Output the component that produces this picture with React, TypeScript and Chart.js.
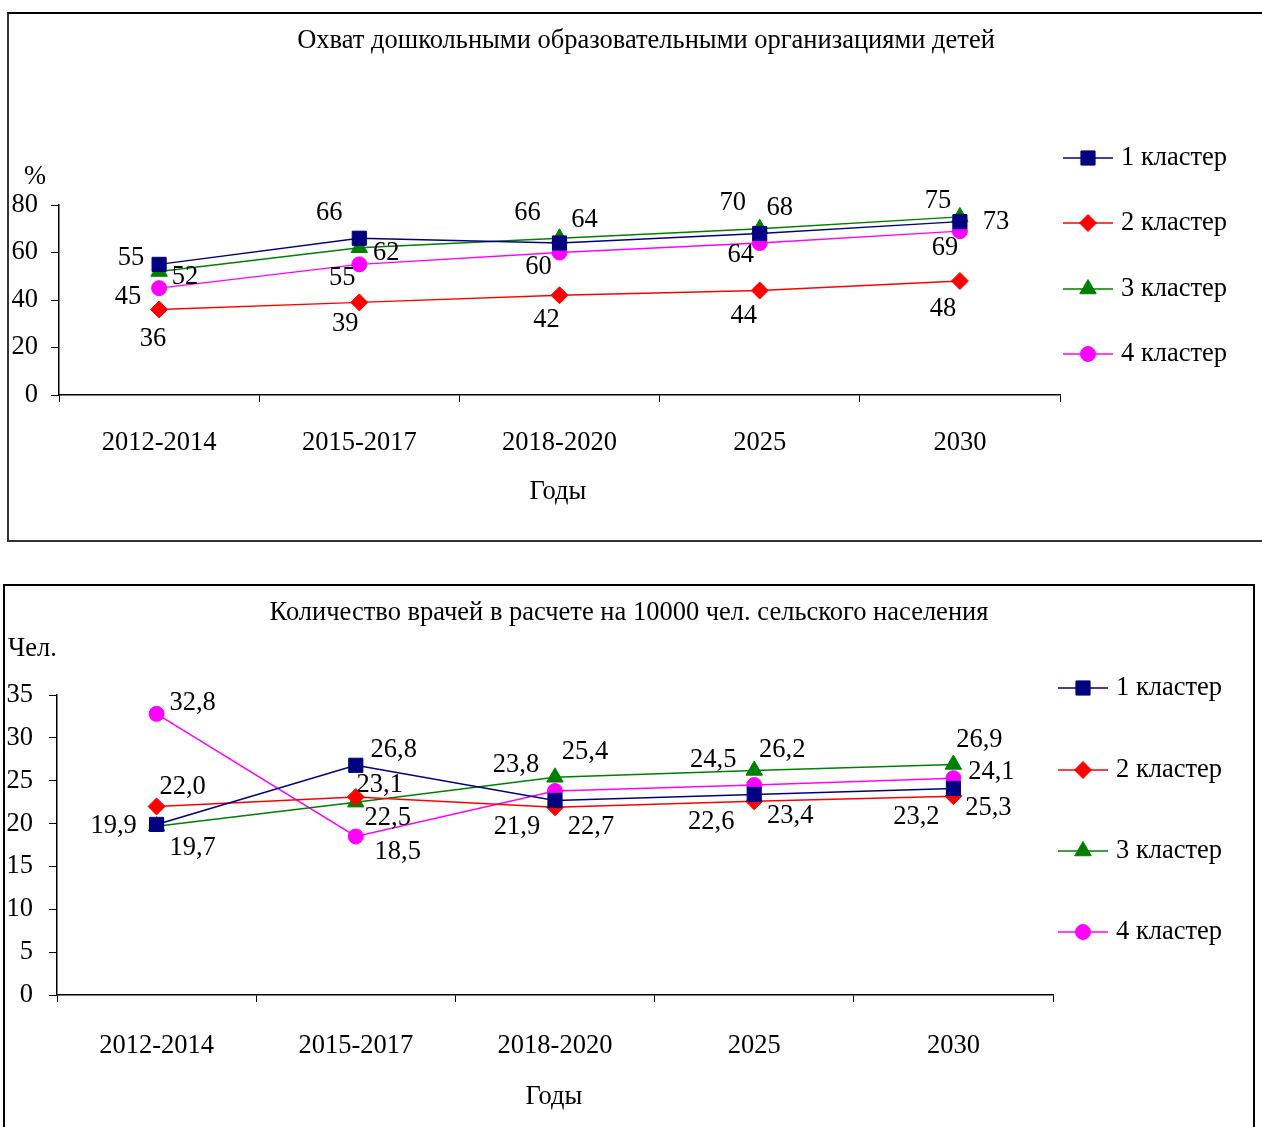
import React, { useEffect, useRef } from 'react';
import { Chart, registerables } from 'chart.js';
import { drawPoint } from 'chart.js/helpers';

Chart.register(...registerables);

// ---------- data ----------
const categories = ['2012-2014', '2015-2017', '2018-2020', '2025', '2030'];
const seriesNames = ['1 кластер', '2 кластер', '3 кластер', '4 кластер'];

const coverageTitle = 'Охват дошкольными образовательными организациями детей';
const coverageUnit = '%';
const coverage1 = [55, 66, 64, 68, 73];
const coverage2 = [36, 39, 42, 44, 48];
const coverage3 = [52, 62, 66, 70, 75];
const coverage4 = [45, 55, 60, 64, 69];
const coverageTicks = [0, 20, 40, 60, 80];

const doctorsTitle = 'Количество врачей в расчете на 10000 чел. сельского населения';
const doctorsUnit = 'Чел.';
const doctors1 = [19.9, 26.8, 22.7, 23.4, 24.1];
const doctors2 = [22.0, 23.1, 21.9, 22.6, 23.2];
const doctors3 = [19.7, 22.5, 25.4, 26.2, 26.9];
const doctors4 = [32.8, 18.5, 23.8, 24.5, 25.3];
const doctorsTicks = [0, 5, 10, 15, 20, 25, 30, 35];

const xAxisTitle = 'Годы';

// ---------- styles ----------
const colors = ['#000080', '#FF0000', '#008000', '#FF00FF'];
const pointStyles = ['rect', 'rectRot', 'triangle', 'circle'];
const pointRadii = [10, 8.5, 9.5, 7.5];
const FONT = "'Liberation Serif', 'Times New Roman', serif";
const FS = 26.5;

// label offsets (dx, dy) relative to each point
const coverageLabelOffsets = [
  [[-28, -6], [-30, -25], [25, -23], [20, -25], [36, 0]],
  [[-6, 30], [-14, 22], [-13, 25], [-16, 26], [-17, 28]],
  [[26, 6], [27, 5], [-32, -25], [-27, -26], [-22, -16]],
  [[-31, 9], [-17, 14], [-21, 15], [-19, 12], [-15, 17]],
];
const doctorsLabelOffsets = [
  [[-43, 2], [38, -15], [36, 27], [36, 22], [38, -16]],
  [[26, -19], [24, -12], [-38, 20], [-43, 21], [-37, 21]],
  [[36, 22], [32, 16], [30, -25], [28, -20], [26, -24]],
  [[36, -11], [42, 16], [-39, -26], [-41, -25], [35, 30]],
];

type Cfg = {
  width: number;
  height: number;
  series: number[][];
  ticks: number[];
  title: string;
  titleX: number;
  titleY: number;
  unit: string;
  unitX: number;
  unitY: number;
  xTitleX: number;
  xTitleY: number;
  area: { left: number; right: number; top: number; bottom: number };
  yLabelPad: number;
  xLabelPad: number;
  legendX: number;
  legendYs: number[];
  offsets: number[][][];
  fmt: (v: number) => string;
};

const decorPlugin = {
  id: 'decor',
  afterDraw(chart: any, _args: any, opts: any) {
    const c: Cfg = opts.cfg;
    if (!c) return;
    const ctx = chart.ctx;
    ctx.save();
    ctx.fillStyle = '#000';
    ctx.font = `${FS}px ${FONT}`;
    ctx.textBaseline = 'middle';
    ctx.textAlign = 'center';
    ctx.fillText(c.title, c.titleX, c.titleY);
    ctx.fillText(xAxisTitle, c.xTitleX, c.xTitleY);
    ctx.textAlign = 'left';
    ctx.fillText(c.unit, c.unitX, c.unitY);
    // data labels
    ctx.textAlign = 'center';
    chart.data.datasets.forEach((ds: any, i: number) => {
      const meta = chart.getDatasetMeta(i);
      meta.data.forEach((el: any, j: number) => {
        const off = c.offsets[i][j];
        ctx.fillText(c.fmt(ds.data[j]), el.x + off[0], el.y + off[1]);
      });
    });
    // legend
    chart.data.datasets.forEach((ds: any, i: number) => {
      const y = c.legendYs[i];
      ctx.strokeStyle = ds.borderColor;
      ctx.lineWidth = 1.5;
      ctx.beginPath();
      ctx.moveTo(c.legendX, y);
      ctx.lineTo(c.legendX + 50, y);
      ctx.stroke();
      ctx.fillStyle = ds.backgroundColor;
      ctx.lineWidth = 1;
      drawPoint(ctx, { pointStyle: ds.pointStyle, radius: ds.pointRadius, rotation: 0, borderWidth: 1 }, c.legendX + 25, y);
      ctx.fillStyle = '#000';
      ctx.textAlign = 'left';
      ctx.fillText(ds.label, c.legendX + 58, y);
    });
    ctx.restore();
  },
};

function LineChart({ cfg }: { cfg: Cfg }) {
  const ref = useRef<HTMLCanvasElement | null>(null);
  useEffect(() => {
    if (!ref.current) return;
    const a = cfg.area;
    const chart = new Chart(ref.current, {
      type: 'line',
      data: {
        labels: categories,
        datasets: cfg.series.map((s, i) => ({
          label: seriesNames[i],
          data: s,
          borderColor: colors[i],
          backgroundColor: colors[i],
          pointBackgroundColor: colors[i],
          pointBorderColor: colors[i],
          pointStyle: pointStyles[i] as any,
          pointRadius: pointRadii[i],
          pointBorderWidth: 1,
          borderWidth: 1.5,
          tension: 0,
          fill: false,
        })),
      },
      options: {
        responsive: false,
        animation: false,
        events: [],
        layout: {
          autoPadding: false,
          padding: { left: 0, top: a.top, right: cfg.width - a.right, bottom: 0 },
        },
        plugins: {
          legend: { display: false },
          title: { display: false },
          tooltip: { enabled: false },
          decor: { cfg },
        } as any,
        scales: {
          x: {
            type: 'category',
            offset: true,
            grid: { offset: true, drawOnChartArea: false, drawTicks: true, tickLength: 7, color: '#000', lineWidth: 1 },
            border: { display: true, color: '#000', width: 1.5 },
            ticks: { color: '#000', font: { family: FONT, size: FS }, padding: cfg.xLabelPad, maxRotation: 0, autoSkip: false },
            afterFit: (s: any) => { s.height = cfg.height - a.bottom; },
          },
          y: {
            min: cfg.ticks[0],
            max: cfg.ticks[cfg.ticks.length - 1],
            afterBuildTicks: (s: any) => { s.ticks = cfg.ticks.map((v) => ({ value: v })); },
            grid: { drawOnChartArea: false, drawTicks: true, tickLength: 8, color: '#000', lineWidth: 1 },
            border: { display: true, color: '#000', width: 1.5 },
            ticks: { color: '#000', font: { family: FONT, size: FS }, padding: cfg.yLabelPad },
            afterFit: (s: any) => { s.width = a.left; },
          },
        },
      },
      plugins: [decorPlugin],
    } as any);
    return () => chart.destroy();
  }, [cfg]);
  return <canvas ref={ref} width={cfg.width} height={cfg.height} style={{ position: 'absolute', left: 0, top: 0, width: cfg.width, height: cfg.height }} />;
}

const cfg1: Cfg = {
  width: 1262,
  height: 560,
  series: [coverage1, coverage2, coverage3, coverage4],
  ticks: coverageTicks,
  title: coverageTitle,
  titleX: 646,
  titleY: 41,
  unit: coverageUnit,
  unitX: 24,
  unitY: 177,
  xTitleX: 558,
  xTitleY: 492,
  area: { left: 59, right: 1060, top: 205, bottom: 395 },
  yLabelPad: 13,
  xLabelPad: 25,
  legendX: 1063,
  legendYs: [158, 223, 289, 354],
  offsets: coverageLabelOffsets,
  fmt: (v) => String(v),
};

const cfg2: Cfg = {
  width: 1262,
  height: 567,
  series: [doctors1, doctors2, doctors3, doctors4],
  ticks: doctorsTicks,
  title: doctorsTitle,
  titleX: 629,
  titleY: 53,
  unit: doctorsUnit,
  unitX: 8,
  unitY: 89,
  xTitleX: 554,
  xTitleY: 537,
  area: { left: 57, right: 1053, top: 135, bottom: 435 },
  yLabelPad: 16,
  xLabelPad: 28,
  legendX: 1058,
  legendYs: [128, 210, 291, 372],
  offsets: doctorsLabelOffsets,
  fmt: (v) => v.toFixed(1).replace('.', ','),
};

export default function App() {
  return (
    <div style={{ position: 'absolute', left: 0, top: 0, width: 1262, height: 1127, overflow: 'hidden', background: '#fff' }}>
      <div style={{ position: 'absolute', left: 7, top: 12, width: 1270, height: 526, borderTop: '2px solid #000', borderLeft: '2px solid #333', borderBottom: '2px solid #333' }} />
      <div style={{ position: 'absolute', left: 3, top: 584, width: 1248, height: 600, border: '2px solid #000' }} />
      <div style={{ position: 'absolute', left: 0, top: 0, width: 1262, height: 560 }}>
        <LineChart cfg={cfg1} />
      </div>
      <div style={{ position: 'absolute', left: 0, top: 560, width: 1262, height: 567 }}>
        <LineChart cfg={cfg2} />
      </div>
    </div>
  );
}
